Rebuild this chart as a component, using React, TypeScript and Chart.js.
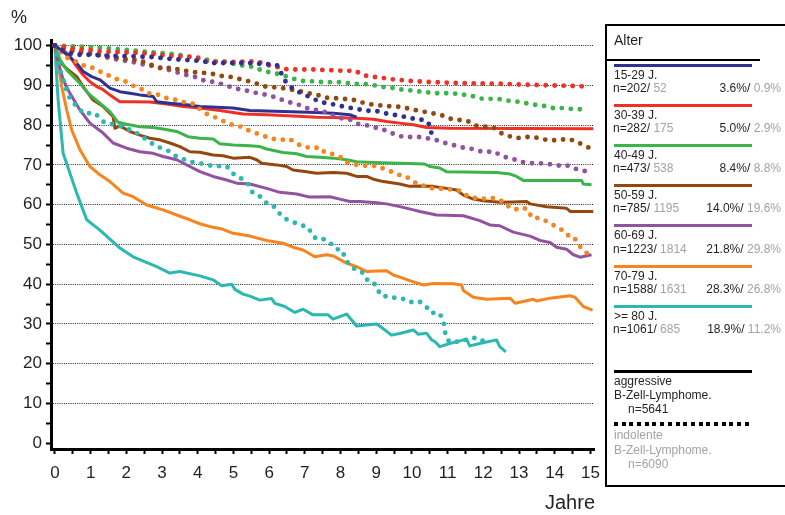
import React, { useEffect, useRef } from 'react';
import { Chart, registerables } from 'chart.js';

Chart.register(...registerables);

const FONT = '"Liberation Sans", Arial, Helvetica, sans-serif';
const TEXT = '#231f20';
const GRAY = '#a3a3a3';

// ---- legend / categories ----
const groups = ['15-29 J.', '30-39 J.', '40-49 J.', '50-59 J.', '60-69 J.', '70-79 J.', '>= 80 J.'];
const groupColors = ['#2e3192', '#ee3124', '#3bb44a', '#94480f', '#9152a1', '#f6851f', '#2bb8b0'];
const nAggressive = [202, 282, 473, 785, 1223, 1588, 1061];
const nIndolent = [52, 175, 538, 1195, 1814, 1631, 685];
const pctAggressive = ['3.6%', '5.0%', '8.4%', '14.0%', '21.8%', '28.3%', '18.9%'];
const pctIndolent = ['0.9%', '2.9%', '8.8%', '19.6%', '29.8%', '26.8%', '11.2%'];

// ---- axis ticks ----
const xTicks = [0, 0.5, 1, 1.5, 2, 2.5, 3, 3.5, 4, 4.5, 5, 5.5, 6, 6.5, 7, 7.5, 8, 8.5, 9, 9.5, 10, 10.5, 11, 11.5, 12, 12.5, 13, 13.5, 14, 14.5, 15];
const yTicks = [0, 5, 10, 15, 20, 25, 30, 35, 40, 45, 50, 55, 60, 65, 70, 75, 80, 85, 90, 95, 100];

// ---- aggressive (solid) survival curves: [years, %] ----
const agg15: number[][] = [[0,100],[0.05,99.7],[0.28,98.1],[0.61,95.6],[0.79,93.5],[1.03,92.2],[1.26,91.4],[1.54,89.3],[1.82,88.4],[2.1,88.0],[2.38,87.6],[2.75,87.2],[2.85,85.9],[3.22,85.5],[3.69,85.1],[4.06,84.7],[4.99,84.3],[5.46,83.7],[6.39,83.4],[7.33,83.2],[7.8,83.0],[8.26,82.6],[8.45,82.0]];
const agg30: number[][] = [[0,100],[0.09,99.3],[0.28,98.5],[0.42,97.3],[0.61,94.7],[0.79,92.6],[0.98,90.9],[1.17,89.7],[1.35,88.9],[1.54,87.6],[1.82,85.9],[2.19,85.9],[2.66,85.8],[3.13,85.3],[3.59,84.7],[4.06,84.3],[4.62,83.7],[5.27,82.8],[5.93,82.6],[6.67,82.3],[7.33,82.0],[7.8,81.9],[8.45,81.7],[8.92,81.5],[9.29,80.9],[9.66,80.5],[10.04,80.1],[10.41,79.4],[11.06,79.2],[15.08,79.1]];
const agg40: number[][] = [[0,100],[0.14,96.5],[0.33,93.9],[0.7,90.5],[0.93,88.0],[1.26,85.5],[1.54,83.4],[1.77,80.7],[2.01,80.2],[2.38,79.6],[2.75,79.4],[3.03,79.0],[3.41,78.4],[3.73,77.1],[4.06,76.7],[4.43,76.5],[4.62,75.3],[4.99,75.0],[5.46,74.8],[5.74,74.6],[5.93,74.0],[6.39,73.1],[6.77,72.8],[7.05,72.1],[7.42,71.9],[7.8,71.7],[8.17,71.3],[8.45,70.8],[8.92,70.6],[9.66,70.4],[10.36,70.2],[10.5,69.6],[10.78,69.2],[10.97,68.3],[12.37,68.1],[12.75,67.7],[12.93,67.1],[13.12,66.1],[14.75,66.1],[14.8,65.2],[15.03,65.0]];
const agg50: number[][] = [[0,100],[0.14,95.9],[0.33,94.2],[0.61,92.2],[0.79,89.7],[1.07,86.3],[1.35,84.7],[1.63,82.1],[1.68,79.2],[1.82,79.8],[2.1,78.4],[2.38,77.5],[2.66,76.7],[2.94,76.3],[3.22,75.5],[3.5,74.6],[3.78,73.3],[4.06,73.2],[4.43,72.5],[4.71,72.3],[4.99,71.7],[5.46,71.9],[5.65,71.3],[5.79,70.4],[6.21,70.0],[6.49,69.6],[6.67,68.7],[7.05,68.3],[7.33,67.9],[7.8,68.1],[8.17,67.9],[8.45,67.1],[8.73,67.1],[8.92,66.4],[9.2,65.8],[9.66,65.2],[9.94,64.6],[10.22,64.7],[10.6,64.6],[10.97,64.1],[11.25,63.7],[11.44,62.4],[11.72,61.4],[12.0,61.0],[12.46,60.6],[12.84,60.7],[13.21,60.8],[13.31,60.2],[13.77,59.5],[14.33,59.1],[14.43,58.3],[15.08,58.3]];
const agg60: number[][] = [[0,100],[0.05,97.2],[0.23,91.4],[0.42,88.0],[0.7,83.8],[0.98,80.5],[1.35,78.0],[1.63,75.5],[2.01,74.2],[2.38,73.3],[2.75,72.9],[3.03,72.1],[3.41,71.3],[3.78,69.6],[4.06,68.3],[4.43,67.1],[4.81,66.2],[5.09,65.4],[5.46,65.2],[5.93,64.1],[6.3,63.1],[6.77,62.7],[7.14,61.9],[7.7,62.0],[7.98,61.4],[8.26,60.8],[8.54,60.8],[9.01,60.5],[9.29,60.2],[9.66,59.5],[10.04,58.7],[10.22,58.3],[10.69,57.4],[11.44,57.2],[11.9,56.0],[12.18,54.9],[12.46,54.7],[12.84,53.1],[13.31,52.1],[13.59,51.0],[13.87,50.5],[14.05,49.3],[14.33,48.8],[14.52,47.4],[14.71,46.8],[15.03,47.4]];
const agg70: number[][] = [[0,100],[0.09,95.6],[0.19,89.7],[0.33,83.8],[0.47,78.8],[0.7,73.8],[0.98,69.6],[1.26,67.5],[1.54,65.8],[1.91,62.9],[2.19,62.0],[2.57,59.9],[3.03,58.7],[3.41,57.4],[3.78,56.2],[4.06,55.2],[4.43,54.3],[4.71,53.8],[4.99,52.8],[5.46,52.1],[5.93,51.0],[6.39,50.3],[6.67,49.3],[6.95,48.6],[7.28,46.9],[7.61,47.4],[7.8,47.1],[8.17,45.3],[8.45,44.4],[8.73,43.2],[9.01,43.3],[9.29,43.4],[9.48,42.3],[9.66,41.8],[9.94,40.9],[10.32,39.8],[10.6,40.2],[11.16,40.1],[11.39,39.8],[11.44,38.4],[11.72,36.7],[12.09,36.2],[12.75,36.5],[12.89,35.2],[13.4,36.2],[13.49,35.8],[13.87,36.5],[14.43,37.1],[14.57,36.7],[14.8,34.4],[15.06,33.5]];
const agg80: number[][] = [[0,100],[0.05,92.0],[0.09,86.3],[0.23,72.9],[0.61,62.9],[0.89,56.2],[1.26,53.6],[1.82,49.1],[2.19,46.9],[2.85,44.4],[3.22,42.8],[3.5,43.2],[4.06,42.1],[4.43,41.1],[4.67,39.6],[4.95,40.0],[5.04,38.7],[5.27,37.5],[5.46,37.0],[5.74,36.0],[6.07,36.4],[6.16,35.2],[6.44,34.4],[6.72,32.9],[6.95,33.7],[7.23,32.3],[7.65,32.3],[7.79,31.2],[8.17,32.5],[8.45,29.5],[9.01,30.0],[9.15,29.1],[9.43,27.2],[9.66,27.6],[10.04,28.5],[10.18,27.4],[10.41,27.7],[10.55,26.0],[10.64,25.6],[10.78,24.3],[11.06,25.1],[11.53,26.2],[11.62,24.5],[11.99,25.3],[12.37,26.0],[12.46,24.3],[12.63,23.0]];

// ---- indolent (dotted) survival curves: [years, %] ----
const ind15: number[][] = [[0,100],[0.33,98.1],[0.65,97.7],[1.03,97.7],[1.59,97.4],[2.19,97.3],[2.75,97.1],[3.27,96.6],[3.97,96.2],[4.48,95.6],[5.46,95.6],[5.97,95.3],[6.23,95.0],[6.33,93.2],[6.44,91.2],[6.6,89.6],[6.83,88.3],[7.03,87.5],[7.26,86.5],[7.5,85.7],[7.75,85.3],[8.0,84.8],[8.24,84.4],[8.5,84.0],[8.73,83.6],[8.99,83.6],[9.24,83.0],[9.48,82.6],[9.74,82.2],[9.99,81.7],[10.22,81.5],[10.46,80.7],[10.52,78.6],[10.62,76.5]];
const ind30: number[][] = [[0,100],[0.5,99.3],[1.35,98.5],[2.19,98.2],[2.75,97.9],[3.13,97.4],[3.97,97.1],[4.25,96.0],[4.95,95.9],[5.46,96.0],[5.71,95.9],[5.96,95.1],[6.19,94.7],[6.42,94.1],[6.67,94.0],[7.19,94.0],[7.44,93.9],[7.94,93.7],[8.43,93.6],[8.61,92.6],[8.85,92.2],[9.1,92.0],[9.36,91.6],[9.6,91.4],[9.85,91.2],[10.1,91.0],[10.6,90.8],[11.53,90.5],[12.46,90.4],[13.4,90.1],[14.33,89.9],[14.89,89.7]];
const ind40: number[][] = [[0,100],[0.98,99.6],[1.49,99.3],[2.01,98.9],[2.47,98.5],[3.03,98.1],[3.45,97.7],[3.92,96.8],[4.17,96.7],[4.42,96.0],[4.64,96.0],[4.88,95.8],[5.11,95.1],[5.35,94.9],[5.57,94.6],[5.81,93.7],[6.05,93.2],[6.3,92.8],[6.53,92.1],[6.77,91.4],[7.0,91.0],[7.26,91.0],[7.52,90.8],[8.01,90.8],[8.26,90.5],[8.52,90.3],[8.76,90.3],[9.01,89.9],[9.24,89.5],[9.5,89.3],[9.74,88.9],[9.99,88.7],[10.24,88.4],[10.48,88.2],[10.74,88.0],[10.99,88.0],[11.23,87.9],[11.48,87.6],[11.74,87.2],[11.98,86.6],[12.21,86.6],[12.46,86.5],[12.72,86.1],[12.96,85.9],[13.21,85.5],[13.47,85.1],[13.71,84.8],[13.93,84.3],[14.17,84.3],[14.43,84.1],[14.68,84.0],[14.92,84.0]];
const ind50: number[][] = [[0,100],[0.42,98.9],[0.84,98.1],[1.17,97.7],[1.59,97.1],[1.82,96.8],[2.1,96.4],[2.33,96.4],[2.71,95.1],[3.03,94.1],[3.27,94.5],[3.55,93.7],[3.78,93.5],[4.01,93.2],[4.25,93.1],[4.48,92.8],[4.73,92.2],[4.97,92.1],[5.21,91.5],[5.44,91.0],[5.67,90.4],[5.9,89.7],[6.14,89.5],[6.38,89.3],[6.63,88.9],[6.86,88.5],[7.11,88.0],[7.35,87.6],[7.58,86.9],[7.82,86.8],[8.06,86.6],[8.31,86.5],[8.52,85.9],[8.76,85.3],[8.99,85.1],[9.24,84.8],[9.48,84.7],[9.76,84.5],[9.97,84.0],[10.2,83.6],[10.44,83.2],[10.67,82.8],[10.9,82.3],[11.11,81.5],[11.34,81.3],[11.58,80.9],[11.79,79.9],[12.04,79.6],[12.28,79.4],[12.49,78.0],[12.7,77.3],[12.91,76.7],[13.17,77.0],[13.42,77.0],[13.65,76.5],[13.89,76.1],[14.13,76.3],[14.38,76.5],[14.61,75.9],[14.83,74.8],[15.05,74.0]];
const ind60: number[][] = [[0,100],[0.09,99.7],[0.47,98.5],[0.89,98.1],[1.17,97.7],[1.59,96.7],[1.82,96.4],[2.1,96.0],[2.57,95.1],[2.85,94.7],[3.17,93.9],[3.55,92.9],[3.87,92.2],[4.06,91.8],[4.17,91.2],[4.42,90.9],[4.64,90.4],[4.88,89.7],[5.11,89.1],[5.35,88.7],[5.57,88.2],[5.81,87.8],[6.02,87.4],[6.25,86.8],[6.47,85.9],[6.7,85.5],[6.93,84.8],[7.12,84.0],[7.36,83.8],[7.59,83.2],[7.82,82.3],[8.03,81.7],[8.24,81.5],[8.47,80.3],[8.68,80.1],[8.9,79.5],[9.12,79.1],[9.34,78.4],[9.55,77.5],[9.78,77.0],[10.04,77.0],[10.29,77.0],[10.52,76.5],[10.74,76.1],[10.94,75.5],[11.16,75.0],[11.39,74.4],[11.61,74.2],[11.83,73.6],[12.05,73.2],[12.28,73.4],[12.49,72.4],[12.7,71.7],[12.91,71.3],[13.14,70.6],[13.37,70.4],[13.59,70.4],[13.84,70.2],[14.05,69.8],[14.31,70.0],[14.52,69.2],[14.73,68.6],[14.99,68.3]];
const ind70: number[][] = [[0,100],[0.28,97.1],[0.51,96.4],[0.75,95.1],[0.98,94.7],[1.17,93.9],[1.35,93.1],[1.59,92.1],[1.77,91.4],[2.01,90.9],[2.19,89.9],[2.43,89.0],[2.57,88.0],[2.85,87.8],[3.03,87.0],[3.27,86.5],[3.5,86.2],[3.69,85.5],[3.92,85.3],[4.06,84.0],[4.25,82.8],[4.48,82.0],[4.67,81.2],[4.9,80.2],[5.09,80.1],[5.32,79.0],[5.51,78.4],[5.72,77.7],[5.93,77.0],[6.13,76.5],[6.35,76.3],[6.58,76.5],[6.77,75.3],[6.98,74.6],[7.19,74.2],[7.42,74.4],[7.56,73.1],[7.78,72.7],[7.98,72.1],[8.12,70.8],[8.34,70.2],[8.56,69.8],[8.78,69.8],[9.01,69.8],[9.22,69.0],[9.43,68.3],[9.64,67.5],[9.83,67.1],[10.02,66.0],[10.18,65.0],[10.39,64.7],[10.6,64.0],[10.83,64.0],[11.06,63.9],[11.3,63.6],[11.48,62.5],[11.67,61.9],[11.88,61.4],[12.11,61.6],[12.34,61.6],[12.54,60.8],[12.68,59.7],[12.87,58.7],[13.09,59.3],[13.26,58.7],[13.35,56.7],[13.59,56.6],[13.8,55.7],[13.99,54.7],[14.19,53.7],[14.33,52.4],[14.52,52.1],[14.64,50.3],[14.78,48.6],[14.97,47.4]];
const ind80: number[][] = [[0,100],[0.14,93.9],[0.23,91.4],[0.37,87.6],[0.47,85.9],[0.65,84.5],[0.79,83.0],[1.12,83.0],[1.4,80.5],[1.68,80.1],[1.96,79.4],[2.29,78.0],[2.57,76.3],[2.85,74.6],[3.13,73.8],[3.41,72.1],[3.78,70.8],[4.06,70.4],[4.43,69.7],[4.81,69.7],[4.95,68.1],[5.09,67.1],[5.23,66.5],[5.41,65.2],[5.51,63.3],[5.65,62.3],[5.79,61.9],[5.93,60.4],[6.1,59.9],[6.24,58.3],[6.39,56.8],[6.56,56.0],[6.77,55.3],[6.95,54.7],[7.1,54.3],[7.19,52.6],[7.33,51.3],[7.54,51.3],[7.7,50.5],[7.84,49.0],[8.06,48.4],[8.12,46.5],[8.26,44.7],[8.43,43.6],[8.64,42.8],[8.73,41.2],[8.92,40.6],[9.03,38.7],[9.15,37.0],[9.4,36.9],[9.57,36.4],[9.78,36.3],[9.96,35.5],[10.2,35.7],[10.39,34.5],[10.52,32.8],[10.76,32.8],[10.86,31.3],[10.92,29.1],[10.94,26.8],[11.06,25.4],[11.33,25.6],[11.58,26.2],[11.81,26.6],[12.02,25.6]];

const aggressiveCurves = [agg15, agg30, agg40, agg50, agg60, agg70, agg80];
const indolentCurves = [ind15, ind30, ind40, ind50, ind60, ind70, ind80];

const toXY = (pairs: number[][]) => pairs.map(([x, y]) => ({ x, y }));

export default function App() {
  const canvasRef = useRef<HTMLCanvasElement | null>(null);

  useEffect(() => {
    const canvas = canvasRef.current;
    if (!canvas) return;

    const datasets: any[] = [];
    indolentCurves.forEach((c, i) => {
      datasets.push({
        label: groups[i] + ' indolent',
        data: toXY(c),
        borderColor: groupColors[i],
        borderWidth: 4.9,
        borderDash: [0, 9],
        borderCapStyle: 'round',
        pointRadius: 0,
        tension: 0,
        fill: false,
        order: 0,
      });
    });
    aggressiveCurves.forEach((c, i) => {
      datasets.push({
        label: groups[i] + ' aggressiv',
        data: toXY(c),
        borderColor: groupColors[i],
        borderWidth: 3,
        borderJoinStyle: 'round',
        pointRadius: 0,
        tension: 0,
        fill: false,
        order: 1,
      });
    });

    const chart = new Chart(canvas, {
      type: 'line',
      data: { datasets },
      options: {
        animation: false,
        responsive: false,
        devicePixelRatio: 1,
        layout: { padding: { top: 40, right: 191, left: 0, bottom: 0 } },
        plugins: { legend: { display: false }, tooltip: { enabled: false } },
        scales: {
          x: {
            type: 'linear',
            min: -0.11,
            max: 15.1,
            afterBuildTicks: (s: any) => {
              s.ticks = xTicks.map((value) => ({ value }));
            },
            afterFit: (s: any) => {
              s.height = 66;
            },
            ticks: {
              autoSkip: false,
              maxRotation: 0,
              minRotation: 0,
              padding: 9,
              color: TEXT,
              font: { family: FONT, size: 17 },
              callback: (v: any) => (Number.isInteger(v) ? String(v) : ''),
            },
            grid: {
              drawOnChartArea: false,
              drawTicks: true,
              tickLength: 5,
              tickWidth: 2,
              tickColor: '#000',
            },
            border: { display: true, color: '#000', width: 3 },
          },
          y: {
            type: 'linear',
            min: -1.43,
            max: 101.4,
            afterBuildTicks: (s: any) => {
              s.ticks = yTicks.map((value) => ({ value }));
            },
            afterFit: (s: any) => {
              s.width = 51;
            },
            ticks: {
              autoSkip: false,
              padding: 4,
              color: TEXT,
              font: { family: FONT, size: 17 },
              callback: (v: any) => (v % 10 === 0 ? String(v) : ''),
            },
            grid: {
              drawOnChartArea: true,
              drawTicks: true,
              tickLength: 5,
              tickWidth: 2,
              tickColor: '#000',
              lineWidth: 1,
              color: (ctx: any) => {
                const v = ctx.tick ? ctx.tick.value : 0;
                return v > 0 && v % 10 === 0 ? '#222' : 'rgba(0,0,0,0)';
              },
            },
            border: { display: true, color: '#000', width: 3, dash: [1, 1.2] },
          },
        },
      },
    });

    return () => chart.destroy();
  }, []);

  const itemTop = (i: number) => 65 + 40.2 * i;

  return (
    <div style={{ position: 'absolute', left: 0, top: 0, width: 785, height: 515, overflow: 'hidden', background: '#fff', fontFamily: FONT, color: TEXT }}>
      <canvas ref={canvasRef} width={785} height={515} style={{ position: 'absolute', left: 0, top: 0, width: 785, height: 515 }} />
      <div style={{ position: 'absolute', left: 11, top: 7, fontSize: 18 }}>%</div>
      <div style={{ position: 'absolute', left: 545, top: 491, fontSize: 20 }}>Jahre</div>

      <div style={{ position: 'absolute', left: 605, top: 24, width: 200, height: 459, border: '2px solid #000' }} />
      <div style={{ position: 'absolute', left: 614, top: 32, fontSize: 14, lineHeight: '17px' }}>Alter</div>
      <div style={{ position: 'absolute', left: 606, top: 59, width: 154, height: 2, background: '#000' }} />

      {groups.map((g, i) => {
        const t = itemTop(i);
        return (
          <React.Fragment key={g}>
            <div style={{ position: 'absolute', left: 614, top: t - 1.5, width: 138, height: 3, background: groupColors[i] }} />
            <div style={{ position: 'absolute', left: 614, top: t + 3.5, fontSize: 12, lineHeight: '13px', whiteSpace: 'pre' }}>{g}</div>
            <div style={{ position: 'absolute', left: 613, top: t + 16.8, width: 168, fontSize: 12, lineHeight: '13px', display: 'flex', justifyContent: 'space-between', whiteSpace: 'pre' }}>
              <span>
                {'n=' + nAggressive[i] + '/ '}
                <span style={{ color: GRAY }}>{String(nIndolent[i])}</span>
              </span>
              <span>
                {pctAggressive[i] + '/ '}
                <span style={{ color: GRAY }}>{pctIndolent[i]}</span>
              </span>
            </div>
          </React.Fragment>
        );
      })}

      <div style={{ position: 'absolute', left: 614, top: 370, width: 138, height: 3, background: '#000' }} />
      <div style={{ position: 'absolute', left: 614, top: 374, fontSize: 12, lineHeight: '14px' }}>
        <div>aggressive</div>
        <div>B-Zell-Lymphome.</div>
        <div style={{ paddingLeft: 14 }}>n=5641</div>
      </div>
      <div style={{ position: 'absolute', left: 614, top: 422, width: 138, height: 4, background: 'repeating-linear-gradient(to right, #000 0px, #000 4px, rgba(0,0,0,0) 4px, rgba(0,0,0,0) 7.7px)' }} />
      <div style={{ position: 'absolute', left: 614, top: 428, fontSize: 12, lineHeight: '14.5px', color: GRAY }}>
        <div>indolente</div>
        <div>B-Zell-Lymphome.</div>
        <div style={{ paddingLeft: 14 }}>n=6090</div>
      </div>
    </div>
  );
}
